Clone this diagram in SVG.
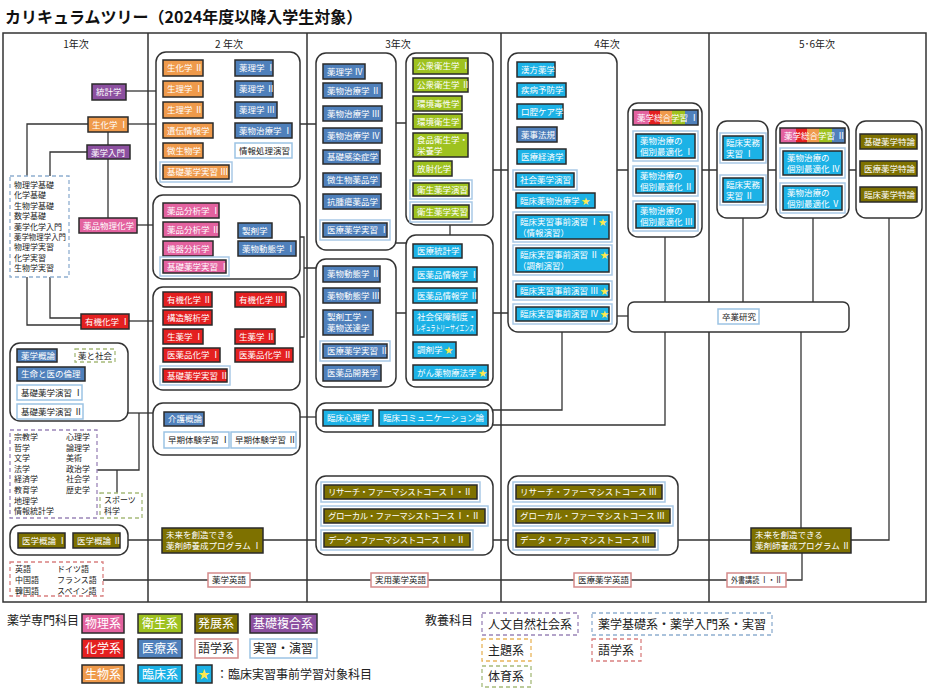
<svg xmlns="http://www.w3.org/2000/svg" width="930" height="696" viewBox="0 0 930 696">
<defs>
<linearGradient id="rainbow" x1="0" x2="1" y1="0" y2="0">
<stop offset="0" stop-color="#e3629f"/><stop offset="0.24" stop-color="#e3629f"/>
<stop offset="0.24" stop-color="#e42020"/><stop offset="0.42" stop-color="#e42020"/>
<stop offset="0.42" stop-color="#ef9a4b"/><stop offset="0.6" stop-color="#ef9a4b"/>
<stop offset="0.6" stop-color="#9ec21f"/><stop offset="0.8" stop-color="#9ec21f"/>
<stop offset="0.8" stop-color="#4f80bb"/><stop offset="1" stop-color="#4f80bb"/>
</linearGradient>
</defs>
<style>
text{font-family:"Noto Sans CJK JP","Noto Sans CJK SC",sans-serif}
.t{font-size:8.5px;fill:#fff}
.d{font-size:8.5px;fill:#222}
.s{fill:#ffe94d}
.n{stroke:#2a2a2a;stroke-width:1.5}
.phy{fill:#e3629f}.chem{fill:#e42020}.bio{fill:#ef9a4b}.hyg{fill:#9ec21f}
.med{fill:#4f80bb}.cli{fill:#1cb2e6}.adv{fill:#7e7100}.bas{fill:#8c50a0}
.o{fill:#fff;stroke:#a9c9e6;stroke-width:1.5}
.ex{fill:#fff;stroke:#9cc3e4;stroke-width:1.5}
.lg{fill:#fff;stroke:#d58a8a;stroke-width:1.5}
.g{fill:#fff;stroke:#333;stroke-width:1.5}
.c{fill:none;stroke:#333;stroke-width:1.3}
.fr{fill:none;stroke:#333;stroke-width:1.5}
.dp{fill:#fff;stroke:#9b85b8;stroke-width:1.3;stroke-dasharray:4 3}
.db{fill:#fff;stroke:#8faed0;stroke-width:1.3;stroke-dasharray:4 3}
.dg{fill:#fff;stroke:#a6bb7a;stroke-width:1.3;stroke-dasharray:4 3}
.dr{fill:#fff;stroke:#d98080;stroke-width:1.3;stroke-dasharray:4 3}
.dy{fill:#fff;stroke:#e9b45a;stroke-width:1.3;stroke-dasharray:4 3}
.h{font-size:10px;fill:#222;text-anchor:middle}
.lt{font-size:12px;fill:#fff}
.ld{font-size:12px;fill:#222}
.sm{font-size:8px;fill:#222}
</style>
<rect x="0" y="0" width="930" height="696" fill="#fff"/>
<text x="5" y="23" font-size="16" font-weight="bold" fill="#111">カリキュラムツリー（2024年度以降入学生対象）</text>

<g id="frame">
<rect class="fr" x="3" y="33" width="923" height="569"/>
<path class="fr" d="M148,33V602M307,33V602M501,33V602M709,33V602"/>
<text class="h" x="76" y="48">1年次</text>
<text class="h" x="229" y="48">2 年次</text>
<text class="h" x="398" y="48">3年次</text>
<text class="h" x="607" y="48">4年次</text>
<text class="h" x="817" y="48">5･6年次</text>
</g>

<g id="connectors">
<path class="c" d="M126,91H156"/>
<path class="c" d="M128,124H156"/>
<path class="c" d="M88,124H27V176"/>
<path class="c" d="M108,132V145"/>
<path class="c" d="M87,152H50V176"/>
<path class="c" d="M108,159V218"/>
<path class="c" d="M137,225H153"/>
<path class="c" d="M50,277V318H81"/>
<path class="c" d="M27,277V325H81"/>
<path class="c" d="M129,321H153"/>
<path class="c" d="M128,413H153"/>
<path class="c" d="M97,470H139V413"/>
<path class="c" d="M117,470V493"/>
<path class="c" d="M128,540H162"/>
<path class="c" d="M103,580H208M250,580H371M428,580H574M631,580H727M786,580H802V553"/>
<path class="c" d="M263,540H316M493,540H508M678,540H751"/>
<path class="c" d="M851,540H889V218"/>
<path class="c" d="M801,528V332"/>
<path class="c" d="M665,237V302M743,218V302M813,218V302"/>
<path class="c" d="M665,332V425H493"/>
<path class="c" d="M562,332V410H493"/>
<path class="c" d="M617,316H628"/>
<path class="c" d="M617,170H628M702,170H717M768,170H776M849,170H856"/>
<path class="c" d="M450,225V235M396,243H406M396,313H406M493,313H508M493,170H508"/>
<path class="c" d="M300,124H316M396,123H406"/>
<path class="c" d="M300,237H304V337H300M304,268H316"/>
<path class="c" d="M300,417H316"/>
</g>

<!-- Year 1 -->
<g id="n-toukei"><rect class="n bas" x="92" y="84" width="34" height="16"/><text class="t" x="96" y="95">統計学</text></g>
<g id="n-seika1"><rect class="n bio" x="88" y="117" width="40" height="15"/><text class="t" x="92" y="128">生化学 Ⅰ</text></g>
<g id="n-nyumon"><rect class="n bas" x="87" y="145" width="43" height="14"/><text class="t" x="91" y="155.5">薬学入門</text></g>
<g id="n-kiso"><rect class="db" x="10" y="176" width="59" height="101"/>
<text class="sm" x="14" y="188">物理学基礎</text><text class="sm" x="14" y="198.4">化学基礎</text><text class="sm" x="14" y="208.8">生物学基礎</text><text class="sm" x="14" y="219.2">数学基礎</text><text class="sm" x="14" y="229.6">薬学化学入門</text><text class="sm" x="14" y="240" textLength="52" lengthAdjust="spacingAndGlyphs">薬学物理学入門</text><text class="sm" x="14" y="250.4">物理学実習</text><text class="sm" x="14" y="260.8">化学実習</text><text class="sm" x="14" y="271.2">生物学実習</text></g>
<g id="n-butsuri"><rect class="n phy" x="79" y="218" width="58" height="15"/><text class="t" x="83" y="229">薬品物理化学</text></g>
<g id="n-yuki1"><rect class="n chem" x="81" y="314" width="48" height="15"/><text class="t" x="85" y="325">有機化学 Ⅰ</text></g>

<g id="grp-y1a"><rect class="g" x="10" y="343" width="118" height="78" rx="10"/>
<rect class="n med" x="17" y="349" width="40" height="13"/><text class="t" x="21" y="358.5">薬学概論</text>
<rect class="dg" x="75" y="349" width="40" height="13"/><text class="d" x="78" y="358.5">薬と社会</text>
<rect class="n med" x="17" y="367" width="68" height="14"/><text class="t" x="21" y="377">生命と医の倫理</text>
<rect class="ex" x="17" y="385" width="65" height="15"/><text class="d" x="21" y="395.5">基礎薬学演習 Ⅰ</text>
<rect class="ex" x="17" y="404" width="66" height="15"/><text class="d" x="21" y="414.5">基礎薬学演習 Ⅱ</text></g>

<g id="n-jinbun"><rect class="dp" x="10" y="430" width="87" height="88"/>
<text class="sm" x="14" y="440">宗教学</text><text class="sm" x="14" y="450.6">哲学</text><text class="sm" x="14" y="461.2">文学</text><text class="sm" x="14" y="471.8">法学</text><text class="sm" x="14" y="482.4">経済学</text><text class="sm" x="14" y="493">教育学</text><text class="sm" x="14" y="503.6">地理学</text><text class="sm" x="14" y="514.2">情報統計学</text>
<text class="sm" x="66" y="440">心理学</text><text class="sm" x="66" y="450.6">論理学</text><text class="sm" x="66" y="461.2">美術</text><text class="sm" x="66" y="471.8">政治学</text><text class="sm" x="66" y="482.4">社会学</text><text class="sm" x="66" y="493">歴史学</text></g>
<g id="n-sports"><rect class="dg" x="100" y="493" width="42" height="25"/><text class="sm" x="104" y="503">スポーツ</text><text class="sm" x="104" y="514">科学</text></g>

<g id="grp-igaku"><rect class="g" x="10" y="525" width="118" height="30" rx="10"/>
<rect class="n adv" x="18" y="533" width="47" height="15"/><text class="t" x="22" y="544">医学概論 Ⅰ</text>
<rect class="n adv" x="73" y="533" width="47" height="15"/><text class="t" x="77" y="544">医学概論 Ⅱ</text></g>
<g id="n-lang"><rect class="dr" x="10" y="562" width="93" height="34"/>
<text class="sm" x="15" y="572">英語</text><text class="sm" x="15" y="583">中国語</text><text class="sm" x="15" y="594">韓国語</text>
<text class="sm" x="57" y="572">ドイツ語</text><text class="sm" x="57" y="583">フランス語</text><text class="sm" x="57" y="594">スペイン語</text></g>

<!-- Year 2 -->
<g id="grp-y2a"><rect class="g" x="156" y="52" width="144" height="135" rx="10"/>
<rect class="n bio" x="163" y="60" width="40" height="16"/><text class="t" x="167" y="71">生化学 Ⅱ</text>
<rect class="n bio" x="163" y="81" width="40" height="16"/><text class="t" x="167" y="92">生理学 Ⅰ</text>
<rect class="n bio" x="163" y="102" width="40" height="16"/><text class="t" x="167" y="113">生理学 Ⅱ</text>
<rect class="n bio" x="163" y="123" width="50" height="15"/><text class="t" x="167" y="133.5">遺伝情報学</text>
<rect class="n bio" x="163" y="143" width="40" height="15"/><text class="t" x="167" y="153.5">微生物学</text>
<rect class="o" x="160" y="162" width="72" height="20"/><rect class="n bio" x="163" y="165" width="66" height="14"/><text class="t" x="167" y="175">基礎薬学実習 Ⅲ</text>
<rect class="n med" x="235" y="60" width="38" height="16"/><text class="t" x="239" y="71">薬理学 Ⅰ</text>
<rect class="n med" x="235" y="81" width="38" height="16"/><text class="t" x="239" y="92">薬理学 Ⅱ</text>
<rect class="n med" x="235" y="102" width="42" height="16"/><text class="t" x="239" y="113">薬理学 Ⅲ</text>
<rect class="n med" x="235" y="123" width="57" height="15"/><text class="t" x="239" y="133.5">薬物治療学 Ⅰ</text>
<rect class="ex" x="235" y="143" width="57" height="15"/><text class="d" x="239" y="153.5">情報処理演習</text></g>

<g id="grp-y2b"><rect class="g" x="153" y="195" width="147" height="84" rx="10"/>
<rect class="n phy" x="163" y="203" width="56" height="15"/><text class="t" x="167" y="213.5">薬品分析学 Ⅰ</text>
<rect class="n phy" x="163" y="222" width="56" height="15"/><text class="t" x="167" y="232.5">薬品分析学 Ⅱ</text>
<rect class="n phy" x="163" y="241" width="50" height="15"/><text class="t" x="167" y="251.5">機器分析学</text>
<rect class="o" x="160" y="257" width="69" height="19"/><rect class="n phy" x="163" y="260" width="63" height="13"/><text class="t" x="167" y="269.5">基礎薬学実習 Ⅰ</text>
<rect class="n med" x="238" y="223" width="34" height="15"/><text class="t" x="242" y="233.5">製剤学</text>
<rect class="n med" x="238" y="241" width="58" height="15"/><text class="t" x="242" y="251.5">薬物動態学 Ⅰ</text></g>

<g id="grp-y2c"><rect class="g" x="153" y="287" width="147" height="103" rx="10"/>
<rect class="n chem" x="163" y="292" width="49" height="15"/><text class="t" x="167" y="302.5">有機化学 Ⅱ</text>
<rect class="n chem" x="235" y="292" width="51" height="15"/><text class="t" x="239" y="302.5">有機化学 Ⅲ</text>
<rect class="n chem" x="163" y="310" width="49" height="15"/><text class="t" x="167" y="320.5">構造解析学</text>
<rect class="n chem" x="163" y="329" width="40" height="15"/><text class="t" x="167" y="339.5">生薬学 Ⅰ</text>
<rect class="n chem" x="235" y="329" width="40" height="15"/><text class="t" x="239" y="339.5">生薬学 Ⅱ</text>
<rect class="n chem" x="163" y="348" width="57" height="14"/><text class="t" x="167" y="358">医薬品化学 Ⅰ</text>
<rect class="n chem" x="235" y="348" width="58" height="14"/><text class="t" x="239" y="358">医薬品化学 Ⅱ</text>
<rect class="o" x="160" y="366" width="70" height="19"/><rect class="n chem" x="163" y="369" width="64" height="13"/><text class="t" x="167" y="378.5">基礎薬学実習 Ⅱ</text></g>

<g id="grp-y2d"><rect class="g" x="153" y="403" width="147" height="52" rx="10"/>
<rect class="n med" x="164" y="412" width="40" height="14"/><text class="t" x="168" y="422">介護概論</text>
<rect class="ex" x="164" y="432" width="65" height="16"/><text class="d" x="168" y="443">早期体験学習 Ⅰ</text>
<rect class="ex" x="231" y="432" width="65" height="16"/><text class="d" x="235" y="443">早期体験学習 Ⅱ</text></g>

<g id="n-mirai1"><rect class="n adv" x="162" y="528" width="101" height="25"/><text class="t" x="166" y="538">未来を創造できる</text><text class="t" x="166" y="549">薬剤師養成プログラム Ⅰ</text></g>
<g id="n-yakueigo"><rect class="lg" x="208" y="573" width="42" height="14"/><text class="d" x="212" y="583">薬学英語</text></g>

<!-- Year 3 -->
<g id="grp-y3e"><rect class="g" x="316" y="53" width="80" height="197" rx="10"/>
<rect class="n med" x="323" y="64" width="42" height="15"/><text class="t" x="327" y="74.5">薬理学 Ⅳ</text>
<rect class="n med" x="323" y="83" width="59" height="15"/><text class="t" x="327" y="93.5">薬物治療学 Ⅱ</text>
<rect class="n med" x="323" y="106" width="59" height="15"/><text class="t" x="327" y="116.5">薬物治療学 Ⅲ</text>
<rect class="n med" x="323" y="128" width="59" height="15"/><text class="t" x="327" y="138.5">薬物治療学 Ⅳ</text>
<rect class="n med" x="323" y="150" width="57" height="14"/><text class="t" x="327" y="160">基礎感染症学</text>
<rect class="n med" x="323" y="173" width="58" height="14"/><text class="t" x="327" y="183">微生物薬品学</text>
<rect class="n med" x="323" y="194" width="58" height="15"/><text class="t" x="327" y="204.5">抗腫瘍薬品学</text>
<rect class="o" x="320" y="220" width="70" height="20"/><rect class="n med" x="323" y="223" width="64" height="14"/><text class="t" x="327" y="233">医療薬学実習 Ⅰ</text></g>

<g id="grp-y3f"><rect class="g" x="406" y="53" width="87" height="172" rx="10"/>
<rect class="n hyg" x="413" y="58" width="55" height="16"/><text class="t" x="417" y="69">公衆衛生学 Ⅰ</text>
<rect class="n hyg" x="413" y="78" width="55" height="14"/><text class="t" x="417" y="88">公衆衛生学 Ⅱ</text>
<rect class="n hyg" x="413" y="96" width="49" height="15"/><text class="t" x="417" y="106.5">環境毒性学</text>
<rect class="n hyg" x="413" y="114" width="49" height="15"/><text class="t" x="417" y="124.5">環境衛生学</text>
<rect class="n hyg" x="413" y="133" width="55" height="24"/><text class="t" x="417" y="143">食品衛生学・</text><text class="t" x="417" y="154">栄養学</text>
<rect class="n hyg" x="413" y="161" width="39" height="15"/><text class="t" x="417" y="171.5">放射化学</text>
<rect class="o" x="410" y="180" width="62" height="19"/><rect class="n hyg" x="413" y="183" width="56" height="13"/><text class="t" x="417" y="192.5">衛生薬学演習</text>
<rect class="o" x="410" y="202" width="62" height="20"/><rect class="n hyg" x="413" y="205" width="56" height="14"/><text class="t" x="417" y="215">衛生薬学実習</text></g>

<g id="grp-y3g"><rect class="g" x="406" y="235" width="87" height="152" rx="10"/>
<rect class="n cli" x="413" y="244" width="49" height="14"/><text class="t" x="417" y="254">医療統計学</text>
<rect class="n cli" x="413" y="267" width="64" height="15"/><text class="t" x="417" y="277.5">医薬品情報学 Ⅰ</text>
<rect class="n cli" x="413" y="288" width="64" height="15"/><text class="t" x="417" y="298.5">医薬品情報学 Ⅱ</text>
<rect class="n cli" x="413" y="310" width="64" height="25"/><text class="t" x="417" y="320">社会保障制度・</text><text class="t" x="416" y="331" font-size="7" textLength="58" lengthAdjust="spacingAndGlyphs">レギュラトリーサイエンス</text>
<rect class="n cli" x="413" y="342" width="43" height="16"/><text class="t" x="417" y="353">調剤学<tspan class="s"> ★</tspan></text>
<rect class="n cli" x="413" y="365" width="75" height="15"/><text class="t" x="417" y="375.5">がん薬物療法学<tspan class="s"> ★</tspan></text></g>

<g id="grp-y3h"><rect class="g" x="316" y="259" width="80" height="128" rx="10"/>
<rect class="n med" x="323" y="266" width="57" height="16"/><text class="t" x="327" y="277">薬物動態学 Ⅱ</text>
<rect class="n med" x="323" y="288" width="57" height="15"/><text class="t" x="327" y="298.5">薬物動態学 Ⅲ</text>
<rect class="n med" x="323" y="310" width="50" height="25"/><text class="t" x="327" y="320">製剤工学・</text><text class="t" x="327" y="331">薬物送達学</text>
<rect class="o" x="320" y="341" width="70" height="20"/><rect class="n med" x="323" y="344" width="64" height="14"/><text class="t" x="327" y="354">医療薬学実習 Ⅱ</text>
<rect class="n med" x="323" y="365" width="58" height="16"/><text class="t" x="327" y="376">医薬品開発学</text></g>

<g id="grp-y3i"><rect class="g" x="316" y="403" width="177" height="29" rx="10"/>
<rect class="n cli" x="323" y="410" width="50" height="16"/><text class="t" x="327" y="421">臨床心理学</text>
<rect class="n cli" x="379" y="410" width="109" height="16"/><text class="t" x="383" y="421" textLength="101" lengthAdjust="spacing">臨床コミュニケーション論</text></g>

<g id="grp-y3j"><rect class="g" x="316" y="476" width="177" height="79" rx="10"/>
<rect class="o" x="321" y="482" width="159" height="20"/><rect class="n adv" x="324" y="485" width="153" height="14"/><text class="t" x="328" y="495" textLength="144" lengthAdjust="spacing">リサーチ・ファーマシストコース Ⅰ・Ⅱ</text>
<rect class="o" x="321" y="506" width="167" height="20"/><rect class="n adv" x="324" y="509" width="161" height="14"/><text class="t" x="328" y="519" textLength="152" lengthAdjust="spacing">グローカル・ファーマシストコース Ⅰ・Ⅱ</text>
<rect class="o" x="321" y="530" width="152" height="20"/><rect class="n adv" x="324" y="533" width="146" height="14"/><text class="t" x="328" y="543" textLength="137" lengthAdjust="spacing">データ・ファーマシストコース Ⅰ・Ⅱ</text></g>
<g id="n-jitsuyo"><rect class="lg" x="371" y="573" width="57" height="14"/><text class="d" x="375" y="583">実用薬学英語</text></g>

<!-- Year 4 -->
<g id="grp-y4k"><rect class="g" x="508" y="53" width="109" height="279" rx="10"/>
<rect class="n cli" x="517" y="62" width="38" height="15"/><text class="t" x="521" y="72.5">漢方薬学</text>
<rect class="n cli" x="517" y="83" width="49" height="14"/><text class="t" x="521" y="93">疾病予防学</text>
<rect class="n cli" x="517" y="104" width="46" height="15"/><text class="t" x="521" y="114.5">口腔ケア学</text>
<rect class="n med" x="517" y="127" width="40" height="15"/><text class="t" x="521" y="137.5">薬事法規</text>
<rect class="n cli" x="517" y="149" width="49" height="15"/><text class="t" x="521" y="159.5">医療経済学</text>
<rect class="o" x="513" y="170" width="64" height="20"/><rect class="n cli" x="516" y="173" width="58" height="14"/><text class="t" x="520" y="183">社会薬学演習</text>
<rect class="n cli" x="516" y="193" width="79" height="15"/><text class="t" x="520" y="203.5">臨床薬物治療学<tspan class="s"> ★</tspan></text>
<rect class="o" x="513" y="212" width="99" height="30"/><rect class="n cli" x="516" y="215" width="93" height="24"/><text class="t" x="520" y="225">臨床実習事前演習 Ⅰ<tspan class="s">★</tspan></text><text class="t" x="518" y="236">（情報演習）</text>
<rect class="o" x="513" y="245" width="99" height="30"/><rect class="n cli" x="516" y="248" width="93" height="24"/><text class="t" x="520" y="258">臨床実習事前演習 Ⅱ<tspan class="s"> ★</tspan></text><text class="t" x="518" y="269">（調剤演習）</text>
<rect class="o" x="513" y="281" width="99" height="19"/><rect class="n cli" x="516" y="284" width="93" height="13"/><text class="t" x="520" y="293.5">臨床実習事前演習 Ⅲ<tspan class="s"> ★</tspan></text>
<rect class="o" x="513" y="304" width="99" height="20"/><rect class="n cli" x="516" y="307" width="93" height="14"/><text class="t" x="520" y="317">臨床実習事前演習 Ⅳ<tspan class="s"> ★</tspan></text></g>

<g id="grp-y4l"><rect class="g" x="508" y="476" width="170" height="79" rx="10"/>
<rect class="o" x="513" y="482" width="152" height="20"/><rect class="n adv" x="516" y="485" width="146" height="14"/><text class="t" x="520" y="495" textLength="137" lengthAdjust="spacing">リサーチ・ファーマシストコース Ⅲ</text>
<rect class="o" x="513" y="506" width="160" height="20"/><rect class="n adv" x="516" y="509" width="154" height="14"/><text class="t" x="520" y="519" textLength="145" lengthAdjust="spacing">グローカル・ファーマシストコース Ⅲ</text>
<rect class="o" x="513" y="530" width="145" height="20"/><rect class="n adv" x="516" y="533" width="139" height="14"/><text class="t" x="520" y="543" textLength="130" lengthAdjust="spacing">データ・ファーマシストコース Ⅲ</text></g>
<g id="n-iryoeigo"><rect class="lg" x="574" y="573" width="57" height="14"/><text class="d" x="578" y="583">医療薬学英語</text></g>

<g id="grp-y4m"><rect class="g" x="628" y="103" width="74" height="134" rx="10"/>
<rect class="n" fill="url(#rainbow)" x="633" y="110" width="65" height="15"/><text class="t" x="637" y="120.5">薬学総合学習 Ⅰ</text>
<rect class="o" x="633" y="131" width="65" height="30"/><rect class="n cli" x="636" y="134" width="59" height="24"/><text class="t" x="640" y="144">薬物治療の</text><text class="t" x="640" y="155">個別最適化 Ⅰ</text>
<rect class="o" x="633" y="166" width="65" height="30"/><rect class="n cli" x="636" y="169" width="59" height="24"/><text class="t" x="640" y="179">薬物治療の</text><text class="t" x="640" y="190">個別最適化 Ⅱ</text>
<rect class="o" x="633" y="201" width="65" height="30"/><rect class="n cli" x="636" y="204" width="59" height="24"/><text class="t" x="640" y="214">薬物治療の</text><text class="t" x="640" y="225">個別最適化 Ⅲ</text></g>

<!-- Year 5-6 -->
<g id="grp-y5n"><rect class="g" x="717" y="121" width="51" height="97" rx="10"/>
<rect class="o" x="720" y="133" width="46" height="30"/><rect class="n cli" x="723" y="136" width="40" height="24"/><text class="t" x="726" y="146">臨床実務</text><text class="t" x="726" y="157">実習 Ⅰ</text>
<rect class="o" x="720" y="175" width="46" height="30"/><rect class="n cli" x="723" y="178" width="40" height="24"/><text class="t" x="726" y="188">臨床実務</text><text class="t" x="726" y="199">実習 Ⅱ</text></g>

<g id="grp-y5o"><rect class="g" x="776" y="121" width="73" height="97" rx="10"/>
<rect class="n" fill="url(#rainbow)" x="780" y="128" width="65" height="15"/><text class="t" x="784" y="138.5">薬学総合学習 Ⅱ</text>
<rect class="o" x="780" y="148" width="65" height="30"/><rect class="n cli" x="783" y="151" width="59" height="24"/><text class="t" x="787" y="161">薬物治療の</text><text class="t" x="787" y="172">個別最適化 Ⅳ</text>
<rect class="o" x="780" y="183" width="65" height="30"/><rect class="n cli" x="783" y="186" width="59" height="24"/><text class="t" x="787" y="196">薬物治療の</text><text class="t" x="787" y="207">個別最適化 Ⅴ</text></g>

<g id="grp-y5p"><rect class="g" x="856" y="121" width="66" height="97" rx="10"/>
<rect class="n adv" x="860" y="134" width="57" height="15"/><text class="t" x="864" y="144.5">基礎薬学特論</text>
<rect class="n adv" x="860" y="161" width="57" height="15"/><text class="t" x="864" y="171.5">医療薬学特論</text>
<rect class="n adv" x="860" y="187" width="57" height="15"/><text class="t" x="864" y="197.5">臨床薬学特論</text></g>

<g id="grp-sotsu"><rect class="g" x="628" y="302" width="221" height="30" rx="6"/>
<rect class="ex" x="718" y="309" width="41" height="15"/><text class="d" x="722" y="319.5">卒業研究</text></g>

<g id="n-mirai2"><rect class="n adv" x="751" y="528" width="100" height="25"/><text class="t" x="755" y="538">未来を創造できる</text><text class="t" x="755" y="549">薬剤師養成プログラム Ⅱ</text></g>
<g id="n-gaisho"><rect class="lg" x="727" y="573" width="59" height="14"/><text class="d" x="731" y="583" textLength="51" lengthAdjust="spacingAndGlyphs">外書講読 Ⅰ・Ⅱ</text></g>

<!-- Legend -->
<g id="legend">
<text class="ld" x="7" y="625">薬学専門科目</text>
<rect class="n phy" x="82" y="614" width="42" height="19"/><text class="lt" x="85" y="628">物理系</text>
<rect class="n hyg" x="138" y="614" width="44" height="19"/><text class="lt" x="142" y="628">衛生系</text>
<rect class="n adv" x="195" y="614" width="43" height="19"/><text class="lt" x="198" y="628">発展系</text>
<rect class="n bas" x="250" y="614" width="67" height="19"/><text class="lt" x="253" y="628">基礎複合系</text>
<rect class="n chem" x="82" y="639" width="42" height="19"/><text class="lt" x="85" y="653">化学系</text>
<rect class="n med" x="138" y="639" width="44" height="19"/><text class="lt" x="142" y="653">医療系</text>
<rect class="lg" x="195" y="639" width="43" height="19"/><text class="ld" x="198" y="653">語学系</text>
<rect class="ex" x="250" y="639" width="67" height="19"/><text class="ld" x="253" y="653">実習・演習</text>
<rect class="n bio" x="82" y="665" width="42" height="18"/><text class="lt" x="85" y="678.5">生物系</text>
<rect class="n cli" x="138" y="665" width="44" height="18"/><text class="lt" x="142" y="678.5">臨床系</text>
<rect class="n cli" x="196" y="665" width="16" height="18"/><text x="198" y="678.5" font-size="12" class="s">★</text>
<text class="ld" x="216" y="678.5">：臨床実習事前学習対象科目</text>
<text class="ld" x="425" y="625">教養科目</text>
<rect class="dp" x="482" y="613" width="96" height="22"/><text class="ld" x="488" y="628.5">人文自然社会系</text>
<rect class="db" x="592" y="613" width="180" height="22"/><text class="ld" x="598" y="628.5">薬学基礎系・薬学入門系・実習</text>
<rect class="dy" x="482" y="639" width="49" height="22"/><text class="ld" x="488" y="654.5">主題系</text>
<rect class="dr" x="592" y="639" width="49" height="22"/><text class="ld" x="598" y="654.5">語学系</text>
<rect class="dg" x="482" y="666" width="49" height="21"/><text class="ld" x="488" y="681">体育系</text>
</g>
</svg>
